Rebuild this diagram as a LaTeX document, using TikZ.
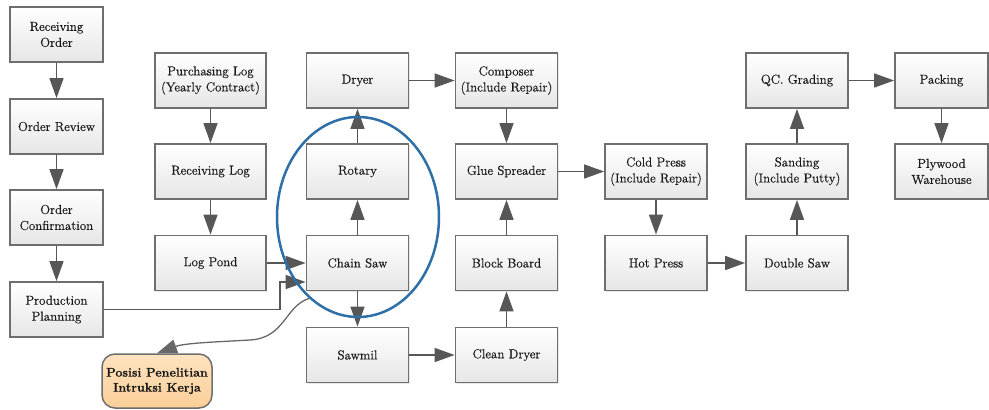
\documentclass[tikz,border=0pt]{standalone}
\usepackage{fontspec}
\setmainfont{Latin Modern Roman}[FakeBold=0.5]
\usetikzlibrary{arrows.meta,shadows,shapes.geometric}
\definecolor{edgegray}{HTML}{6E6E6E}
\definecolor{arrowgray}{HTML}{575757}
\definecolor{boxtop}{HTML}{FFFFFF}
\definecolor{boxbot}{HTML}{E6E6E6}
\definecolor{notetop}{HTML}{FEE3C0}
\definecolor{notebot}{HTML}{FBCF98}
\definecolor{ringblue}{HTML}{2F6FA8}

\begin{document}
\begin{tikzpicture}[x=1pt,y=-1pt,
  stepbox/.style={draw=edgegray, line width=1.8pt, top color=boxtop, bottom color=boxbot,
    minimum height=55pt, align=center, font=\rmfamily\fontsize{13}{16}\selectfont, text=black!90,
    inner sep=2pt, drop shadow={opacity=0.18,shadow xshift=1pt,shadow yshift=-1pt}},
  narrow/.style={stepbox, minimum width=93pt},
  wide/.style={stepbox, minimum width=111pt},
  mid/.style={stepbox, minimum width=102pt},
  flow/.style={draw=arrowgray, line width=1.6pt, -{Triangle[length=20pt,width=14pt]}},
]
\useasboundingbox (0,0) rectangle (989,410);

% order handling column
\node[narrow] (ro) at (56.5,34.5) {Receiving\\Order};
\node[narrow] (or) at (56.5,126.5) {Order Review};
\node[narrow] (oc) at (56.5,217.5) {Order\\Confirmation};
\node[narrow] (pp) at (56.5,309.5) {Production\\Planning};

% log supply column
\node[wide] (pl) at (210.5,80.5) {Purchasing Log\\(Yearly Contract)};
\node[wide] (rl) at (210.5,171.5) {Receiving Log};
\node[wide] (lp) at (210.5,263) {Log Pond};

% veneer / sawing column
\node[mid] (dr) at (357.5,80.5) {Dryer};
\node[mid] (rt) at (357.5,171.5) {Rotary};
\node[mid] (cs) at (357.5,263) {Chain Saw};
\node[mid] (sm) at (357.5,355) {Sawmil};

% core assembly column
\node[mid] (co) at (506.5,80.5) {Composer\\(Include Repair)};
\node[mid] (gs) at (506.5,171.5) {Glue Spreader};
\node[mid] (bb) at (506.5,263) {Block Board};
\node[mid] (cd) at (506.5,355) {Clean Dryer};

% pressing and finishing
\node[mid] (cp) at (656,171.5) {Cold Press\\(Include Repair)};
\node[mid] (hp) at (656,263) {Hot Press};
\node[mid] (ds) at (797,263) {Double Saw};
\node[mid] (sd) at (797,171.5) {Sanding\\(Include Putty)};
\node[mid] (qc) at (797,80.5) {QC. Grading};
\node[narrow] (pk) at (941.5,80.5) {Packing};
\node[narrow] (pw) at (941.5,171.5) {Plywood\\Warehouse};

% note box
\node[draw=edgegray, line width=1.5pt, rounded corners=13pt, top color=notetop, bottom color=notebot,
  minimum width=110pt, minimum height=54pt, align=center, text=black!90,
  font=\rmfamily\bfseries\fontsize{12.5}{15}\selectfont] (note) at (157,381) {Posisi Penelitian\\Intruksi Kerja};

% connectors
\draw[flow] (ro) -- (or);
\draw[flow] (or) -- (oc);
\draw[flow] (oc) -- (pp);
\draw[flow] (pl) -- (rl);
\draw[flow] (rl) -- (lp);
\draw[flow] (lp) -- (cs);
\coordinate (bend) at (280,282);
\draw[flow] (pp.east) -| (bend) -- (bend -| cs.west);
\draw[flow] (cs) -- (rt);
\draw[flow] (rt) -- (dr);
\draw[flow] (cs) -- (sm);
\draw[flow] (dr) -- (co);
\draw[flow] (co) -- (gs);
\draw[flow] (sm) -- (cd);
\draw[flow] (cd) -- (bb);
\draw[flow] (bb) -- (gs);
\draw[flow] (gs) -- (cp);
\draw[flow] (cp) -- (hp);
\draw[flow] (hp) -- (ds);
\draw[flow] (ds) -- (sd);
\draw[flow] (sd) -- (qc);
\draw[flow] (qc) -- (pk);
\draw[flow] (pk) -- (pw);

% highlighted area
\node[draw=ringblue, line width=2.5pt, ellipse, minimum width=162pt, minimum height=200pt, inner sep=0pt]
  (ring) at (358,217) {};
\draw[flow, draw=arrowgray!90, line width=1.3pt] (ring.239) .. controls (285,306) and (285,338) .. (250,340)
  .. controls (215,342) and (185,343) .. (note.north);
\end{tikzpicture}
\end{document}
